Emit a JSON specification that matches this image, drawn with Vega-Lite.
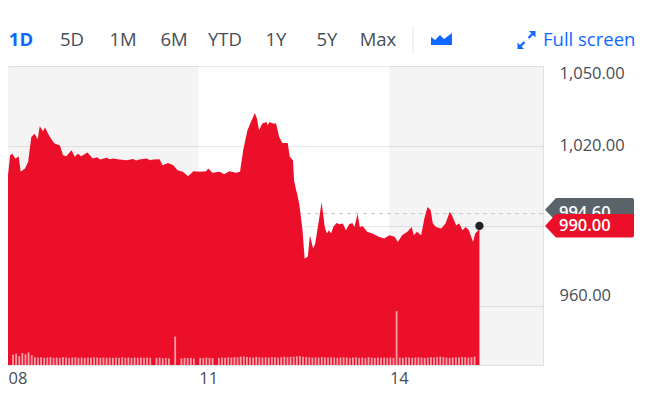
{
  "$schema": "https://vega.github.io/schema/vega-lite/v6.json",
  "width": 535,
  "height": 299,
  "autosize": {"type": "none"},
  "padding": {"left": 8, "top": 66, "right": 113, "bottom": 33},
  "background": "white",
  "config": {
    "view": {"stroke": null},
    "font": "Open Sans",
    "axis": {"labelFont": "Open Sans", "labelFontSize": 16.5, "labelColor": "#464e56", "ticks": false, "domainColor": "#dde1e8", "title": null}
  },
  "datasets": {
    "price": [
      {"minute":480,"price":1009.0},{"minute":482,"price":1016.5},{"minute":484,"price":1017.1},{"minute":487,"price":1015.2},
      {"minute":490,"price":1016.1},{"minute":492,"price":1010.3},{"minute":496,"price":1011.5},{"minute":499,"price":1014.0},
      {"minute":502,"price":1023.4},{"minute":505,"price":1024.6},{"minute":508,"price":1022.5},{"minute":510,"price":1027.4},
      {"minute":513,"price":1025.5},{"minute":515,"price":1026.9},{"minute":518,"price":1024.5},{"minute":521,"price":1022.5},
      {"minute":524,"price":1020.9},{"minute":529,"price":1020.2},{"minute":532,"price":1016.5},{"minute":535,"price":1016.1},
      {"minute":540,"price":1018.4},{"minute":543,"price":1015.9},{"minute":546,"price":1017.1},{"minute":549,"price":1016.1},
      {"minute":555,"price":1017.5},{"minute":560,"price":1015.3},{"minute":564,"price":1015.8},{"minute":567,"price":1014.9},
      {"minute":573,"price":1015.6},{"minute":576,"price":1015.0},{"minute":579,"price":1015.3},{"minute":585,"price":1014.9},
      {"minute":592,"price":1014.6},{"minute":598,"price":1015.1},{"minute":601,"price":1014.5},{"minute":604,"price":1014.9},
      {"minute":611,"price":1015.3},{"minute":614,"price":1014.6},{"minute":617,"price":1014.9},{"minute":623,"price":1015.0},
      {"minute":626,"price":1012.8},{"minute":631,"price":1013.6},{"minute":636,"price":1012.8},{"minute":640,"price":1010.9},
      {"minute":645,"price":1010.3},{"minute":650,"price":1008.6},{"minute":655,"price":1010.5},{"minute":661,"price":1010.3},
      {"minute":667,"price":1010.5},{"minute":669,"price":1011.5},{"minute":673,"price":1009.9},{"minute":680,"price":1010.3},
      {"minute":684,"price":1009.4},{"minute":689,"price":1010.5},{"minute":695,"price":1009.9},{"minute":699,"price":1010.3},
      {"minute":702,"price":1018.4},{"minute":706,"price":1025.9},{"minute":710,"price":1029.6},{"minute":713,"price":1032.4},
      {"minute":715,"price":1030.3},{"minute":717,"price":1025.9},{"minute":720,"price":1028.4},{"minute":724,"price":1029.0},
      {"minute":725,"price":1027.8},{"minute":727,"price":1029.0},{"minute":730,"price":1028.4},{"minute":733,"price":1028.4},
      {"minute":736,"price":1023.4},{"minute":739,"price":1021.1},{"minute":744,"price":1021.1},{"minute":746,"price":1015.9},
      {"minute":749,"price":1014.6},{"minute":750,"price":1007.1},{"minute":752,"price":1003.4},{"minute":753,"price":1002.0},
      {"minute":755,"price":998.0},{"minute":758,"price":988.4},{"minute":760,"price":977.8},{"minute":763,"price":978.4},
      {"minute":765,"price":986.5},{"minute":768,"price":981.5},{"minute":770,"price":983.4},{"minute":774,"price":993.4},
      {"minute":776,"price":999.0},{"minute":779,"price":989.6},{"minute":781,"price":987.1},{"minute":783,"price":988.4},
      {"minute":785,"price":987.1},{"minute":787,"price":989.6},{"minute":790,"price":991.1},{"minute":793,"price":990.6},
      {"minute":796,"price":990.9},{"minute":799,"price":988.4},{"minute":802,"price":990.6},{"minute":805,"price":991.1},
      {"minute":807,"price":989.6},{"minute":810,"price":994.6},{"minute":812,"price":989.6},{"minute":815,"price":989.9},
      {"minute":819,"price":987.8},{"minute":824,"price":987.1},{"minute":830,"price":985.9},{"minute":835,"price":985.3},
      {"minute":840,"price":986.5},{"minute":845,"price":985.9},{"minute":848,"price":984.0},{"minute":852,"price":986.5},
      {"minute":857,"price":987.8},{"minute":861,"price":989.6},{"minute":863,"price":986.5},{"minute":866,"price":987.8},
      {"minute":870,"price":986.5},{"minute":873,"price":992.8},{"minute":876,"price":997.1},{"minute":879,"price":995.9},
      {"minute":881,"price":990.9},{"minute":884,"price":989.6},{"minute":889,"price":989.0},{"minute":893,"price":990.9},
      {"minute":897,"price":995.3},{"minute":899,"price":994.0},{"minute":903,"price":990.2},{"minute":906,"price":990.9},
      {"minute":909,"price":988.4},{"minute":912,"price":989.6},{"minute":915,"price":988.4},{"minute":919,"price":984.0},
      {"minute":921,"price":987.1},{"minute":924,"price":988.4},{"minute":925,"price":990.0}
    ],
    "volume": [
      {"minute":480,"volume":34},{"minute":483,"volume":38},{"minute":486,"volume":30},{"minute":489,"volume":40},{"minute":492,"volume":36},
      {"minute":495,"volume":42},{"minute":498,"volume":33},{"minute":501,"volume":26},{"minute":504,"volume":25},{"minute":507,"volume":26},
      {"minute":510,"volume":24},{"minute":513,"volume":25},{"minute":516,"volume":26},{"minute":519,"volume":24},{"minute":522,"volume":25},
      {"minute":525,"volume":24},{"minute":528,"volume":26},{"minute":531,"volume":25},{"minute":534,"volume":24},{"minute":537,"volume":25},
      {"minute":540,"volume":26},{"minute":543,"volume":24},{"minute":546,"volume":25},{"minute":549,"volume":24},{"minute":552,"volume":25},
      {"minute":555,"volume":24},{"minute":558,"volume":26},{"minute":561,"volume":25},{"minute":564,"volume":24},{"minute":567,"volume":25},
      {"minute":570,"volume":24},{"minute":573,"volume":25},{"minute":576,"volume":24},{"minute":579,"volume":25},{"minute":582,"volume":24},
      {"minute":585,"volume":26},{"minute":588,"volume":24},{"minute":591,"volume":25},{"minute":594,"volume":24},{"minute":597,"volume":25},
      {"minute":600,"volume":24},{"minute":603,"volume":25},{"minute":606,"volume":24},{"minute":609,"volume":25},{"minute":612,"volume":24},
      {"minute":615,"volume":0},{"minute":618,"volume":24},{"minute":621,"volume":25},{"minute":624,"volume":23},{"minute":627,"volume":24},
      {"minute":630,"volume":22},{"minute":633,"volume":0},{"minute":636,"volume":95},{"minute":639,"volume":0},{"minute":642,"volume":22},
      {"minute":645,"volume":24},{"minute":648,"volume":23},{"minute":651,"volume":24},{"minute":654,"volume":22},{"minute":657,"volume":0},
      {"minute":660,"volume":24},{"minute":663,"volume":23},{"minute":666,"volume":25},{"minute":669,"volume":24},{"minute":672,"volume":23},
      {"minute":675,"volume":0},{"minute":678,"volume":24},{"minute":681,"volume":25},{"minute":684,"volume":24},{"minute":687,"volume":26},
      {"minute":690,"volume":25},{"minute":693,"volume":27},{"minute":696,"volume":26},{"minute":699,"volume":28},{"minute":702,"volume":29},
      {"minute":705,"volume":27},{"minute":708,"volume":26},{"minute":711,"volume":25},{"minute":714,"volume":27},{"minute":717,"volume":26},
      {"minute":720,"volume":25},{"minute":723,"volume":26},{"minute":726,"volume":25},{"minute":729,"volume":27},{"minute":732,"volume":26},
      {"minute":735,"volume":25},{"minute":738,"volume":26},{"minute":741,"volume":28},{"minute":744,"volume":26},{"minute":747,"volume":27},
      {"minute":750,"volume":28},{"minute":753,"volume":29},{"minute":756,"volume":30},{"minute":759,"volume":28},{"minute":762,"volume":27},
      {"minute":765,"volume":26},{"minute":768,"volume":25},{"minute":771,"volume":26},{"minute":774,"volume":25},{"minute":777,"volume":27},
      {"minute":780,"volume":26},{"minute":783,"volume":25},{"minute":786,"volume":26},{"minute":789,"volume":25},{"minute":792,"volume":24},
      {"minute":795,"volume":25},{"minute":798,"volume":26},{"minute":801,"volume":25},{"minute":804,"volume":24},{"minute":807,"volume":25},
      {"minute":810,"volume":26},{"minute":813,"volume":24},{"minute":816,"volume":25},{"minute":819,"volume":24},{"minute":822,"volume":26},
      {"minute":825,"volume":25},{"minute":828,"volume":24},{"minute":831,"volume":25},{"minute":834,"volume":24},{"minute":837,"volume":25},
      {"minute":840,"volume":24},{"minute":843,"volume":25},{"minute":846,"volume":24},{"minute":849,"volume":180},{"minute":852,"volume":25},
      {"minute":855,"volume":24},{"minute":858,"volume":26},{"minute":861,"volume":25},{"minute":864,"volume":24},{"minute":867,"volume":25},
      {"minute":870,"volume":26},{"minute":873,"volume":25},{"minute":876,"volume":24},{"minute":879,"volume":25},{"minute":882,"volume":26},
      {"minute":885,"volume":25},{"minute":888,"volume":27},{"minute":891,"volume":28},{"minute":894,"volume":26},{"minute":897,"volume":25},
      {"minute":900,"volume":24},{"minute":903,"volume":25},{"minute":906,"volume":26},{"minute":909,"volume":25},{"minute":912,"volume":27},
      {"minute":915,"volume":26},{"minute":918,"volume":25},{"minute":921,"volume":26},{"minute":924,"volume":28}
    ],
    "sessions": [{"start": 480, "end": 660}, {"start": 840, "end": 985}],
    "tags": [{"kind": "previous close", "price": 994.6}, {"kind": "last", "price": 990.0}],
    "toolbar": [{"item": "1D"}, {"item": "5D"}, {"item": "1M"}, {"item": "6M"}, {"item": "YTD"}, {"item": "1Y"}, {"item": "5Y"}, {"item": "Max"}]
  },
  "layer": [
    {
      "layer": [
        {
          "data": {"name": "sessions"},
          "mark": {"type": "rect", "fill": "#000000", "fillOpacity": 0.045},
          "encoding": {
            "x": {"field": "start", "type": "quantitative", "title": null, "scale": {"domain": [480, 985], "nice": false, "zero": false}},
            "x2": {"field": "end"}
          }
        },
        {
          "data": {"name": "tags"},
          "transform": [{"filter": "datum.kind == 'previous close'"}],
          "mark": {"type": "rule", "stroke": "#c4c7cc", "strokeWidth": 1, "strokeDash": [4, 4]},
          "encoding": {
            "y": {"field": "price", "type": "quantitative", "title": null}
          }
        },
        {
          "data": {"name": "price"},
          "mark": {"type": "area", "color": "#eb0f29", "opacity": 1, "interpolate": "linear", "clip": true},
          "encoding": {
            "x": {"field": "minute", "type": "quantitative", "title": null,
                  "scale": {"domain": [480, 985], "nice": false, "zero": false},
                  "axis": {"values": [480, 660, 840], "labelExpr": "format(datum.value / 60, '02d')", "labelAlign": "left", "labelBaseline": "top", "labelPadding": 5, "labelFlush": false, "labelOverlap": false, "grid": false, "domain": true, "domainColor": "#dde1e8"}},
            "y": {"field": "price", "type": "quantitative", "title": null,
                  "scale": {"domain": [937.8, 1050], "nice": false, "zero": false},
                  "axis": {"orient": "right", "values": [960, 990, 1020, 1050], "format": ",.2f", "grid": true, "gridColor": "#e8e9eb", "domain": true, "domainColor": "#dde1e8", "labelPadding": 16, "labelAlign": "left", "labelBaseline": "middle",
                           "labelOffset": {"condition": [{"test": "datum.value == 1050", "value": 7}, {"test": "datum.value == 960", "value": -10}], "value": 0}}}
          }
        },
        {
          "data": {"name": "price"},
          "transform": [{"filter": "datum.minute == 925"}],
          "mark": {"type": "point", "filled": true, "color": "#1d2228", "size": 70, "opacity": 1},
          "encoding": {
            "x": {"field": "minute", "type": "quantitative", "title": null},
            "y": {"field": "price", "type": "quantitative", "title": null}
          }
        },
        {
          "data": {"name": "tags"},
          "transform": [{"filter": "datum.kind == 'previous close'"}],
          "layer": [
            {
              "mark": {"type": "point", "shape": "M0.2,-0.4L1.3,-1.57L8.9,-1.57Q9.1,-1.57 9.1,-1.37L9.1,0.57Q9.1,0.77 8.9,0.77L1.3,0.77Z", "size": 400, "filled": true, "color": "#5b636a", "opacity": 1},
              "encoding": {"x": {"value": "width"}, "y": {"field": "price", "type": "quantitative", "title": null}}
            },
            {
              "mark": {"type": "text", "align": "left", "baseline": "middle", "dx": 16, "dy": -1, "fontSize": 16.5, "fontWeight": 600, "color": "#ffffff"},
              "encoding": {"x": {"value": "width"}, "y": {"field": "price", "type": "quantitative", "title": null}, "text": {"field": "price", "type": "quantitative", "format": ",.2f"}}
            }
          ]
        },
        {
          "data": {"name": "tags"},
          "transform": [{"filter": "datum.kind == 'last'"}],
          "layer": [
            {
              "mark": {"type": "point", "shape": "M0.2,0L1.3,-1.2L8.9,-1.2Q9.1,-1.2 9.1,-1L9.1,0.97Q9.1,1.17 8.9,1.17L1.3,1.17Z", "size": 400, "filled": true, "color": "#eb0f29", "opacity": 1},
              "encoding": {"x": {"value": "width"}, "y": {"field": "price", "type": "quantitative", "title": null}}
            },
            {
              "mark": {"type": "text", "align": "left", "baseline": "middle", "dx": 16, "fontSize": 16.5, "fontWeight": 600, "color": "#ffffff"},
              "encoding": {"x": {"value": "width"}, "y": {"field": "price", "type": "quantitative", "title": null}, "text": {"field": "price", "type": "quantitative", "format": ",.2f"}}
            }
          ]
        }
      ]
    },
    {
      "data": {"name": "volume"},
      "mark": {"type": "bar", "color": "#ffffff", "opacity": 0.6, "size": 1.8},
      "encoding": {
        "x": {"field": "minute", "type": "quantitative", "title": null, "scale": {"domain": [480, 985], "nice": false, "zero": false}, "axis": null},
        "y": {"field": "volume", "type": "quantitative", "title": null, "scale": {"domain": [0, 1000], "nice": false}, "axis": null}
      }
    },
    {
      "data": {"name": "toolbar"},
      "layer": [
        {
          "transform": [{"filter": "datum.item == '1D'"}],
          "mark": {"type": "text", "fontSize": 18.5, "fontWeight": "bold", "color": "#0f69ff", "baseline": "middle", "align": "center"},
          "encoding": {
            "x": {"field": "item", "type": "nominal", "title": null, "axis": null, "scale": {"type": "point", "domain": ["1D", "5D", "1M", "6M", "YTD", "1Y", "5Y", "Max"], "range": [13, 370], "padding": 0}},
            "y": {"value": -26},
            "text": {"field": "item"}
          }
        },
        {
          "transform": [{"filter": "datum.item != '1D'"}],
          "mark": {"type": "text", "fontSize": 18.5, "fontWeight": 500, "color": "#464e56", "baseline": "middle", "align": "center"},
          "encoding": {
            "x": {"field": "item", "type": "nominal", "title": null, "axis": null, "scale": {"type": "point", "domain": ["1D", "5D", "1M", "6M", "YTD", "1Y", "5Y", "Max"], "range": [13, 370], "padding": 0}},
            "y": {"value": -26},
            "text": {"field": "item"}
          }
        }
      ]
    },
    {
      "data": {"values": [{"label": "Full screen"}]},
      "layer": [
        {
          "mark": {"type": "text", "fontSize": 18.5, "fontWeight": 500, "color": "#0f69ff", "baseline": "middle", "align": "left"},
          "encoding": {"x": {"value": "width"}, "y": {"value": -26}, "text": {"field": "label"}}
        },
        {
          "mark": {"type": "point", "shape": "M-112,5L-112,-3L-108,0L-103,-5L-99,-1L-95,-4L-91,-7L-91,5ZM-7.5,-9L-14,-9L-7.5,-2.5ZM-9.15,-5.65L-10.85,-7.35L-15.35,-2.85L-13.65,-1.15ZM-25.5,9L-19,9L-25.5,2.5ZM-23.85,5.65L-22.15,7.35L-17.65,2.85L-19.35,1.15Z", "size": 4, "filled": true, "color": "#0f69ff", "opacity": 1},
          "encoding": {"x": {"value": "width"}, "y": {"value": -26}}
        },
        {
          "mark": {"type": "point", "shape": "M-130.5,-14L-129.5,-14L-129.5,14L-130.5,14Z", "size": 4, "filled": true, "color": "#e0e4e9", "opacity": 1},
          "encoding": {"x": {"value": "width"}, "y": {"value": -26}}
        }
      ]
    }
  ],
  "resolve": {"scale": {"x": "independent", "y": "independent"}}
}
